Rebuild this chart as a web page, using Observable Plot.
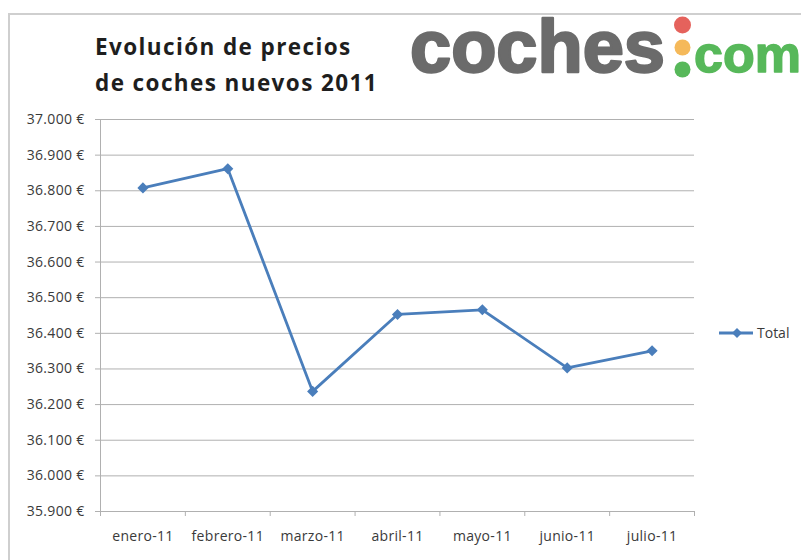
<!DOCTYPE html>
<html><head><meta charset="utf-8">
<script src="https://cdn.jsdelivr.net/npm/d3@7"></script>
<script src="https://cdn.jsdelivr.net/npm/@observablehq/plot@0.6"></script>
<style>
body{margin:0;background:#fff;}
#wrap{position:relative;width:801px;height:560px;overflow:hidden;font-family:"Open Sans",sans-serif;background:#fff;}
#wrap > svg{position:absolute;left:0;top:0;}
</style>
</head><body>
<div id="wrap"></div>
<script>
const months = ["enero-11","febrero-11","marzo-11","abril-11","mayo-11","junio-11","julio-11"];
const totals = [36808, 36862, 36237, 36453, 36466, 36303, 36351];
const yTicks = [35900, 36000, 36100, 36200, 36300, 36400, 36500, 36600, 36700, 36800, 36900, 37000];
const seriesName = "Total";
const titleLines = ["Evolución de precios", "de coches nuevos 2011"];

const data = months.map((m, i) => ({i, month: m, value: totals[i]}));
const idx = months.map((d, i) => i);
const bounds = [-0.5, ...idx.map(i => i + 0.5)];
const eur = d3.formatLocale({decimal: ",", thousands: ".", grouping: [3], currency: ["", " €"]}).format("$,.0f");
const lineColor = "#4a7ebb";
const gridColor = "#b0b0b0";

const chart = Plot.plot({
  width: 801, height: 560,
  marginLeft: 100, marginRight: 107, marginTop: 119, marginBottom: 49,
  style: {fontFamily: "Open Sans", fontSize: "14px", color: "#3a3a3a", background: "transparent", letterSpacing: "0.3px"},
  x: {type: "linear", domain: [-0.5, 6.5]},
  y: {domain: [35900, 37000]},
  marks: [
    Plot.gridY(yTicks, {stroke: gridColor, strokeOpacity: 1}),
    Plot.ruleX([-0.5], {stroke: gridColor}),
    Plot.axisY(yTicks, {tickFormat: eur, tickSize: 5, tickPadding: 11, stroke: gridColor, label: null}),
    Plot.axisX(bounds, {tickSize: 5, tickFormat: () => "", stroke: gridColor, label: null}),
    Plot.axisX(idx, {tickSize: 0, tickPadding: 20, tickFormat: i => months[i], label: null}),
    Plot.line(data, {x: "i", y: "value", stroke: lineColor, strokeWidth: 2.8}),
    Plot.dot(data, {x: "i", y: "value", symbol: "diamond2", r: 5, fill: lineColor, stroke: "none"})
  ]
});
const wrap = document.getElementById("wrap");
wrap.appendChild(chart);

const ov = d3.select(wrap).append("svg").attr("width", 801).attr("height", 560);
// frame
ov.append("path").attr("d", "M9,560V14H801").attr("fill", "none").attr("stroke", "#cfcfcf").attr("stroke-width", 2);
// title
ov.selectAll("text.title").data(titleLines).join("text")
  .attr("x", 95).attr("y", (d, i) => 55 + i * 35.5)
  .attr("font-family", "Open Sans").attr("font-weight", 700).attr("font-size", 22.5)
  .attr("letter-spacing", 1.4).attr("fill", "#1e1e1e").text(d => d);
// logo
ov.append("text").attr("x", 410).attr("y", 72).attr("font-family", "Liberation Sans").attr("font-weight", 700)
  .attr("font-size", 74).attr("fill", "#6b6b6b").attr("stroke", "#6b6b6b").attr("stroke-width", 2.5)
  .attr("stroke-linejoin", "round").text("coches");
ov.append("circle").attr("cx", 682.5).attr("cy", 25).attr("r", 8.5).attr("fill", "#e5625c");
ov.append("circle").attr("cx", 682.5).attr("cy", 47.5).attr("r", 8).attr("fill", "#f5b95a");
ov.append("circle").attr("cx", 682.5).attr("cy", 69.5).attr("r", 8).attr("fill", "#57b85a");
ov.append("text").attr("x", 694).attr("y", 72).attr("font-family", "Liberation Sans").attr("font-weight", 700)
  .attr("font-size", 52).attr("fill", "#57b85a").attr("stroke", "#57b85a").attr("stroke-width", 1.5)
  .attr("stroke-linejoin", "round").text("com");
// legend
ov.append("line").attr("x1", 719).attr("x2", 753).attr("y1", 333).attr("y2", 333).attr("stroke", lineColor).attr("stroke-width", 2.8);
ov.append("path").attr("d", "M737,328L742,333L737,338L732,333Z").attr("fill", lineColor);
ov.append("text").attr("x", 757).attr("y", 333).attr("dy", "0.35em").attr("font-family", "Open Sans")
  .attr("font-size", 14).attr("fill", "#3a3a3a").text(seriesName);
</script>
</body></html>
